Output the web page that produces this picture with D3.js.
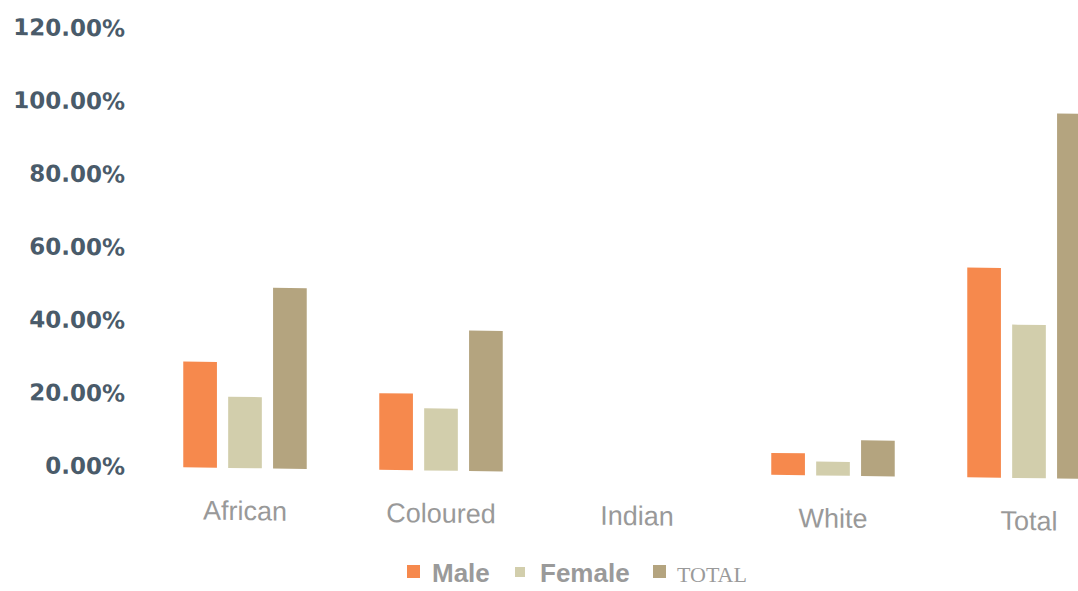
<!DOCTYPE html>
<html>
<head>
<meta charset="utf-8">
<script src="https://cdn.jsdelivr.net/npm/d3@7"></script>
<style>
  body { margin: 0; background: #fff; }
  svg { display: block; font-family: "Liberation Sans", Arial, sans-serif; }
</style>
</head>
<body>
<svg id="chart" width="1078" height="591"></svg>
<script>
// data
var categories = ['African', 'Coloured', 'Indian', 'White', 'Total'];
var series = ['Male', 'Female', 'TOTAL'];
var maleValues = [0.29, 0.21, 0, 0.06, 0.575];
var femaleValues = [0.195, 0.17, 0, 0.038, 0.42];
var totalValues = [0.495, 0.385, 0, 0.098, 1.0];
var yTicks = [0, 0.2, 0.4, 0.6, 0.8, 1.0, 1.2];

var colors = ['#f6894d', '#d2ceac', '#b4a47f'];

var svg = d3.select('#chart');
var rows = categories.map(function (c, i) {
    return {cat: c, vals: [maleValues[i], femaleValues[i], totalValues[i]]};
});

var x = d3.scaleBand().domain(categories).range([147, 1127])
    .paddingInner(0.37).paddingOuter(0.185);
var xs = d3.scaleBand().domain(series).range([0, x.bandwidth()])
    .paddingInner(0.25).paddingOuter(0);
var y = d3.scaleLinear().domain([0, 1.2]).range([465, 27]);

// the scan is slightly sheared: baseline drops to the right
var plot = svg.append('g').attr('transform', 'skewY(0.73)');

// y axis labels
var yAxis = plot.append('g')
    .attr('transform', 'translate(125,0)')
    .call(d3.axisLeft(y).tickValues(yTicks).tickSize(0).tickPadding(0)
        .tickFormat(function (d) { return (d * 100).toFixed(2) + '%'; }));
yAxis.select('.domain').remove();
yAxis.selectAll('text')
    .attr('fill', '#4a5b6a')
    .style('font-size', '23px')
    .style('font-weight', 'bold')
    .style('font-family', '"DejaVu Sans", sans-serif');

// bars
var groups = plot.selectAll('g.cat')
    .data(rows)
    .enter().append('g')
    .attr('class', 'cat')
    .attr('transform', function (d) { return 'translate(' + x(d.cat) + ',0)'; });

groups.selectAll('rect')
    .data(function (d) { return d.vals.map(function (v, i) { return {s: series[i], v: v, i: i}; }); })
    .enter().append('rect')
    .attr('x', function (d) { return xs(d.s); })
    .attr('y', function (d) { return y(d.v); })
    .attr('width', xs.bandwidth())
    .attr('height', function (d) { return y(0) - y(d.v); })
    .attr('fill', function (d) { return colors[d.i]; });

// category labels
plot.append('g').selectAll('text')
    .data(categories)
    .enter().append('text')
    .attr('x', function (d) { return x(d) + x.bandwidth() / 2; })
    .attr('y', 517)
    .attr('text-anchor', 'middle')
    .attr('fill', '#999')
    .style('font-size', '27px')
    .text(function (d) { return d; });

// legend
var legendX = [407, 515, 653];
var legend = svg.append('g').selectAll('g')
    .data(series)
    .enter().append('g')
    .attr('transform', function (d, i) { return 'translate(' + legendX[i] + ',565)'; });
legend.append('rect')
    .attr('y', function (d, i) { return i === 1 ? 2 : 0; })
    .attr('width', function (d, i) { return i === 1 ? 10 : 13; })
    .attr('height', function (d, i) { return i === 1 ? 10 : 13; })
    .attr('fill', function (d, i) { return colors[i]; });
legend.append('text')
    .attr('x', function (d) { return d === 'TOTAL' ? 24 : 25; })
    .attr('y', 17)
    .attr('fill', '#9a9a9a')
    .style('font-size', function (d) { return d === 'TOTAL' ? '22px' : '26px'; })
    .style('font-weight', function (d) { return d === 'TOTAL' ? 'normal' : 'bold'; })
    .style('font-family', function (d) { return d === 'TOTAL' ? '"Liberation Serif", serif' : null; })
    .text(function (d) { return d; });
</script>
</body>
</html>
